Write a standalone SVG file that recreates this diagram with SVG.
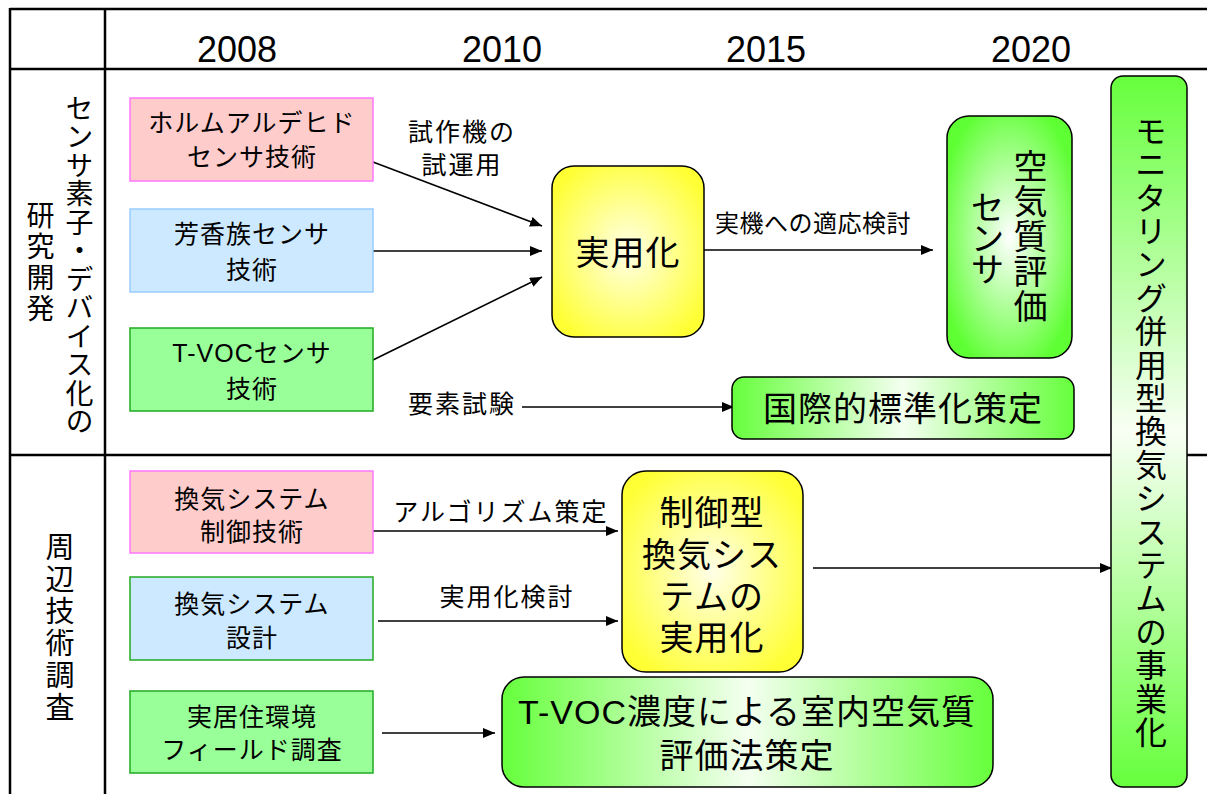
<svg xmlns="http://www.w3.org/2000/svg" width="1207" height="794" viewBox="0 0 1207 794">
<style>
text{font-family:'Liberation Sans','Noto Sans CJK JP',sans-serif;fill:#000;dominant-baseline:central;text-anchor:middle}
.yr{font-size:36px}
.bx{font-size:25px;letter-spacing:1px}
.lb{font-size:25px;letter-spacing:2px}
.big{font-size:34px;letter-spacing:1px}
.vt{writing-mode:vertical-rl;text-anchor:middle}
.grid{stroke:#000;stroke-width:2.5;fill:none}
.pink{fill:#ffcccc;stroke:#ff77ff;stroke-width:1.5}
.blue{fill:#cce9ff;stroke:#99ccff;stroke-width:1.5}
.blueg{fill:#cce9ff;stroke:#22aa22;stroke-width:1.5}
.green{fill:#99ff99;stroke:#22aa22;stroke-width:1.5}
.gr{stroke:#000;stroke-width:1.5}
.conn line{stroke:#000;stroke-width:1.6;marker-end:url(#ah)}
</style>
<defs>
<marker id="ah" markerUnits="userSpaceOnUse" markerWidth="13" markerHeight="11" refX="12" refY="5" orient="auto">
<path d="M0,0 L12,5 L0,10 z" fill="#000"/>
</marker>
<radialGradient id="yel" cx="50%" cy="50%" r="60%">
<stop offset="0" stop-color="#ffffe8"/>
<stop offset="1" stop-color="#ffff33"/>
</radialGradient>
<radialGradient id="grnR" cx="50%" cy="50%" r="58%">
<stop offset="0" stop-color="#ffffff"/>
<stop offset="1" stop-color="#5eff33"/>
</radialGradient>
<linearGradient id="grnH" x1="0" y1="0" x2="1" y2="0">
<stop offset="0" stop-color="#66ff3c"/>
<stop offset="0.5" stop-color="#f4fff0"/>
<stop offset="1" stop-color="#66ff3c"/>
</linearGradient>
<linearGradient id="grnV" x1="0" y1="0" x2="0" y2="1">
<stop offset="0" stop-color="#66ff3c"/>
<stop offset="0.5" stop-color="#f8fff4"/>
<stop offset="1" stop-color="#66ff3c"/>
</linearGradient>
</defs>
<rect width="1207" height="794" fill="#fff"/>
<g id="table">
<line class="grid" x1="10" y1="9" x2="1207" y2="9"/>
<line class="grid" x1="10" y1="69" x2="1207" y2="69"/>
<line class="grid" x1="10" y1="455" x2="1207" y2="455"/>
<line class="grid" x1="10" y1="8" x2="10" y2="794"/>
<line class="grid" x1="105" y1="8" x2="105" y2="794"/>
<text class="yr" x="237" y="49">2008</text>
<text class="yr" x="502" y="49">2010</text>
<text class="yr" x="766" y="49">2015</text>
<text class="yr" x="1031" y="49">2020</text>
<text class="vt" x="77" y="265" style="font-size:28px;letter-spacing:0.5px">センサ素子・デバイス化の</text>
<text class="vt" x="38" y="263" style="font-size:28px;letter-spacing:3px">研究開発</text>
<text class="vt" x="57" y="628" style="font-size:29px;letter-spacing:3px">周辺技術調査</text>
</g>
<g class="conn" id="connectors">
<line x1="373" y1="162" x2="542" y2="226"/>
<line x1="373" y1="251" x2="542" y2="251"/>
<line x1="373" y1="360" x2="542" y2="277"/>
<line x1="522" y1="407" x2="734" y2="407"/>
<line x1="704" y1="250" x2="933" y2="250"/>
<line x1="373" y1="531" x2="618" y2="531"/>
<line x1="378" y1="621" x2="618" y2="621"/>
<line x1="382" y1="733" x2="495" y2="733"/>
<line x1="813" y1="568" x2="1112" y2="568"/>
<text class="lb" x="462" y="132">試作機の</text>
<text class="lb" x="462" y="165">試運用</text>
<text class="lb" x="462" y="404">要素試験</text>
<text class="lb" x="813" y="223" style="font-size:24px;letter-spacing:0.5px">実機への適応検討</text>
<text class="lb" x="501" y="512">アルゴリズム策定</text>
<text class="lb" x="507" y="597">実用化検討</text>
</g>
<g id="n-formaldehyde">
<rect class="pink" x="130" y="98" width="243" height="83"/>
<text class="bx" x="252" y="123">ホルムアルデヒド</text>
<text class="bx" x="252" y="157">センサ技術</text>
</g>
<g id="n-aromatic">
<rect class="blue" x="130" y="209" width="243" height="83"/>
<text class="bx" x="252" y="234">芳香族センサ</text>
<text class="bx" x="252" y="270">技術</text>
</g>
<g id="n-tvoc">
<rect class="green" x="130" y="328" width="243" height="83"/>
<text class="bx" x="252" y="353">T-VOCセンサ</text>
<text class="bx" x="252" y="389">技術</text>
</g>
<g id="n-practical">
<rect class="gr" fill="url(#yel)" x="552" y="166" width="152" height="171" rx="22"/>
<text class="big" x="628" y="253">実用化</text>
</g>
<g id="n-airsensor">
<rect class="gr" fill="url(#grnR)" x="947" y="116" width="125" height="242" rx="22"/>
<text class="vt" x="1028" y="237" style="font-size:34px;letter-spacing:1px">空気質評価</text>
<text class="vt" x="985" y="237" style="font-size:34px;letter-spacing:-3px">センサ</text>
</g>
<g id="n-standard">
<rect class="gr" fill="url(#grnH)" x="732" y="377" width="342" height="62" rx="12"/>
<text class="big" x="903" y="409">国際的標準化策定</text>
</g>
<g id="n-monitoring">
<rect class="gr" fill="url(#grnV)" x="1111" y="76" width="76" height="711" rx="12"/>
<text class="vt" x="1148" y="432" style="font-size:32px;letter-spacing:1.4px">モニタリング併用型換気システムの事業化</text>
</g>
<g id="n-ctrl">
<rect class="pink" x="130" y="471" width="243" height="82"/>
<text class="bx" x="252" y="499">換気システム</text>
<text class="bx" x="252" y="532">制御技術</text>
</g>
<g id="n-design">
<rect class="blueg" x="130" y="577" width="243" height="83"/>
<text class="bx" x="252" y="604">換気システム</text>
<text class="bx" x="252" y="638">設計</text>
</g>
<g id="n-field">
<rect class="green" x="130" y="691" width="243" height="82"/>
<text class="bx" x="252" y="717">実居住環境</text>
<text class="bx" x="252" y="750">フィールド調査</text>
</g>
<g id="n-ctrlsys">
<rect class="gr" fill="url(#yel)" x="622" y="471" width="181" height="201" rx="24"/>
<text class="big" x="712" y="513">制御型</text>
<text class="big" x="712" y="555">換気シス</text>
<text class="big" x="712" y="597">テムの</text>
<text class="big" x="712" y="638">実用化</text>
</g>
<g id="n-method">
<rect class="gr" fill="url(#grnH)" x="502" y="677" width="491" height="110" rx="22"/>
<text class="big" x="747" y="712">T-VOC濃度による室内空気質</text>
<text class="big" x="747" y="756">評価法策定</text>
</g>
</svg>
